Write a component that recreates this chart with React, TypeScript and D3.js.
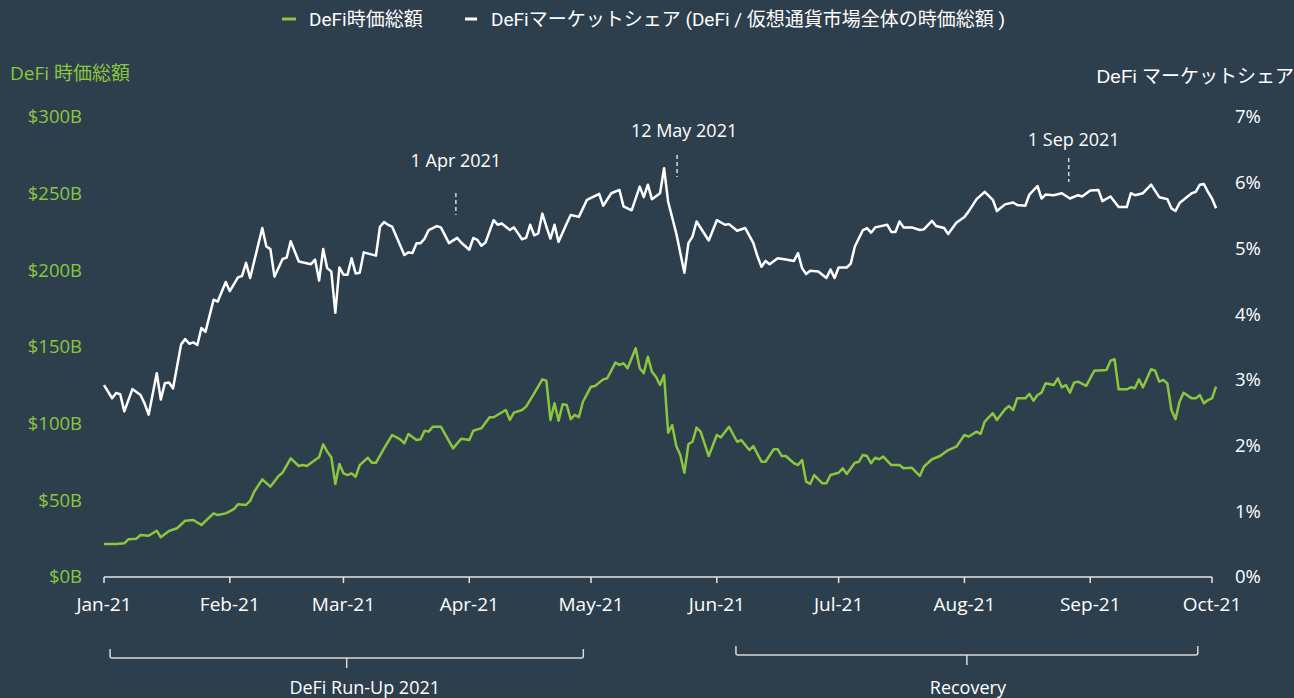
import React from "react";
import * as d3 from "d3";

// ---------- data ----------
const START = new Date(2021, 0, 1);
const END = new Date(2021, 9, 1);

// [days since 1 Jan 2021, DeFi market cap in $B]
const tvlSeries: [number, number][] = [
  [0, 21.5], [3, 21.5], [5, 22.0], [6, 24.6], [8, 25.0], [9, 27.4], [11, 26.9], [13, 30.2], [14, 25.9], [16, 30.0],
  [18, 31.8], [20, 36.7], [22, 37.2], [24, 33.9], [27, 41.5], [28, 40.4], [30, 41.5], [32, 44.2], [33, 47.4], [35, 47.0],
  [36, 49.6], [37, 55.6], [39, 63.7], [41, 58.9], [43, 65.9], [44, 68.0], [46, 77.4], [48, 72.4], [49, 73.0], [50, 72.4],
  [52, 76.3], [53, 78.1], [54, 86.5], [55, 81.7], [56, 78.1], [57, 60.7], [58, 73.7], [59, 67.6], [60, 66.5], [61, 67.6],
  [62, 65.4], [63, 73.0], [65, 77.8], [66, 74.5], [67, 74.5], [69, 83.9], [71, 92.6], [73, 89.8], [74, 87.2], [75, 93.3],
  [77, 89.3], [78, 89.8], [79, 95.4], [80, 94.8], [81, 98.0], [83, 98.0], [86, 83.9], [88, 90.2], [90, 89.3], [91, 95.4],
  [92, 96.3], [93, 97.0], [95, 104.2], [96, 104.2], [99, 108.9], [100, 102.4], [101, 107.2], [103, 108.9], [104, 111.1], [106, 119.8],
  [108, 128.9], [109, 128.0], [110, 102.4], [111, 113.3], [112, 101.9], [113, 112.6], [114, 112.2], [115, 102.9], [116, 105.7], [117, 104.2],
  [118, 114.3], [120, 124.1], [121, 124.6], [123, 128.9], [124, 129.6], [126, 139.8], [127, 138.3], [128, 139.4], [129, 136.1], [131, 149.2],
  [132, 136.1], [133, 132.9], [134, 143.7], [135, 133.9], [136, 130.6], [137, 125.2], [138, 131.7], [139, 94.1], [140, 99.1], [141, 85.4],
  [142, 79.6], [143, 68.0], [144, 86.7], [145, 88.2], [146, 97.4], [147, 94.8], [149, 78.9], [151, 92.6], [152, 91.1], [154, 98.0],
  [156, 88.2], [157, 89.3], [159, 82.8], [160, 85.4], [162, 75.2], [163, 75.2], [165, 83.3], [166, 83.3], [167, 78.9], [168, 78.9],
  [170, 74.2], [171, 73.0], [172, 76.3], [173, 62.2], [174, 60.7], [175, 66.5], [177, 61.1], [178, 61.1], [179, 66.5], [181, 68.0],
  [182, 70.9], [183, 67.2], [185, 74.5], [186, 75.2], [187, 79.6], [188, 78.9], [189, 74.2], [190, 77.8], [191, 76.8], [192, 78.5],
  [194, 73.0], [196, 73.0], [197, 70.9], [199, 71.3], [201, 65.9], [202, 71.9], [204, 76.8], [206, 78.9], [208, 82.8], [210, 85.0],
  [212, 92.6], [213, 91.5], [215, 94.8], [216, 93.3], [217, 101.3], [219, 106.8], [220, 102.4], [222, 109.4], [223, 111.5], [224, 108.9],
  [225, 116.5], [227, 116.5], [228, 119.4], [229, 115.0], [230, 118.7], [231, 120.2], [232, 126.3], [234, 125.2], [235, 129.6], [236, 123.7],
  [237, 125.2], [238, 120.2], [239, 126.7], [240, 127.4], [242, 124.6], [244, 134.5], [247, 135.0], [248, 141.1], [249, 142.0], [250, 122.4],
  [252, 122.4], [253, 123.7], [254, 123.1], [255, 128.9], [256, 123.7], [258, 135.5], [259, 134.5], [260, 127.4], [261, 128.5], [262, 126.3],
  [263, 108.9], [264, 102.9], [265, 114.3], [266, 120.2], [268, 116.5], [269, 116.5], [270, 118.7], [271, 113.3], [272, 115.4], [273, 116.5],
  [274, 124.1],
];

// [days since 1 Jan 2021, DeFi market share in %]
const shareSeries: [number, number][] = [
  [0, 2.92], [2, 2.72], [3, 2.80], [4, 2.78], [5, 2.52], [7, 2.86], [9, 2.77], [10, 2.64], [11, 2.47], [13, 3.10],
  [14, 2.70], [15, 2.95], [16, 2.96], [17, 2.87], [19, 3.54], [20, 3.62], [21, 3.55], [22, 3.57], [23, 3.53], [24, 3.79],
  [25, 3.73], [27, 4.22], [28, 4.19], [30, 4.49], [31, 4.35], [33, 4.56], [34, 4.58], [35, 4.78], [36, 4.55], [39, 5.31],
  [40, 5.03], [41, 4.99], [42, 4.57], [44, 4.84], [45, 4.86], [46, 5.11], [48, 4.80], [51, 4.76], [52, 4.83], [53, 4.51],
  [54, 4.99], [55, 4.70], [56, 4.65], [57, 4.02], [58, 4.71], [59, 4.60], [60, 4.60], [61, 4.85], [62, 4.62], [63, 4.63],
  [64, 4.94], [67, 4.89], [68, 5.33], [69, 5.40], [70, 5.36], [71, 5.33], [74, 4.90], [75, 4.94], [76, 4.93], [77, 5.08],
  [78, 5.08], [79, 5.15], [80, 5.28], [82, 5.34], [83, 5.32], [85, 5.08], [87, 5.16], [88, 5.09], [90, 4.98], [91, 5.16],
  [92, 5.13], [93, 5.04], [94, 5.09], [96, 5.43], [97, 5.36], [98, 5.38], [100, 5.28], [101, 5.32], [103, 5.14], [104, 5.16],
  [105, 5.36], [106, 5.20], [107, 5.23], [108, 5.53], [109, 5.33], [110, 5.15], [111, 5.36], [112, 5.10], [114, 5.38], [115, 5.51],
  [117, 5.48], [118, 5.61], [119, 5.74], [122, 5.83], [123, 5.65], [125, 5.84], [127, 5.89], [128, 5.64], [130, 5.58], [132, 5.94],
  [133, 5.78], [134, 5.97], [135, 5.75], [137, 5.84], [138, 6.22], [139, 5.71], [141, 5.23], [143, 4.63], [144, 5.08], [145, 5.18],
  [146, 5.41], [149, 5.12], [151, 5.43], [153, 5.36], [154, 5.37], [156, 5.27], [158, 5.31], [160, 5.08], [161, 4.88], [162, 4.72],
  [163, 4.81], [164, 4.76], [166, 4.85], [168, 4.83], [170, 4.81], [171, 4.93], [172, 4.70], [173, 4.61], [174, 4.66], [176, 4.65],
  [178, 4.55], [179, 4.68], [180, 4.55], [181, 4.71], [183, 4.71], [184, 4.77], [185, 5.03], [187, 5.28], [188, 5.31], [189, 5.24],
  [190, 5.32], [193, 5.36], [194, 5.25], [195, 5.25], [196, 5.41], [197, 5.32], [199, 5.32], [201, 5.28], [202, 5.29], [204, 5.42],
  [205, 5.34], [207, 5.31], [208, 5.22], [210, 5.39], [212, 5.48], [213, 5.56], [215, 5.75], [217, 5.86], [219, 5.74], [220, 5.57],
  [222, 5.67], [224, 5.70], [225, 5.66], [227, 5.65], [228, 5.82], [230, 5.95], [231, 5.76], [232, 5.82], [234, 5.81], [236, 5.84],
  [238, 5.76], [240, 5.81], [241, 5.79], [243, 5.88], [245, 5.89], [246, 5.72], [248, 5.79], [250, 5.63], [252, 5.63], [253, 5.84],
  [254, 5.81], [256, 5.84], [258, 5.97], [260, 5.78], [262, 5.75], [263, 5.61], [264, 5.57], [265, 5.69], [266, 5.74], [268, 5.84],
  [269, 5.86], [270, 5.97], [271, 5.98], [272, 5.86], [273, 5.76], [274, 5.61],
];

const tvlTicks = [0, 50, 100, 150, 200, 250, 300];
const shareTicks = [0, 1, 2, 3, 4, 5, 6, 7];

const legendLabels = ["DeFi時価総額", "DeFiマーケットシェア (DeFi / 仮想通貨市場全体の時価総額 )"];
const leftTitle = "DeFi 時価総額";
const rightTitle = "DeFi マーケットシェア";

const annotationLabels = ["1 Apr 2021", "12 May 2021", "1 Sep 2021"];
const annotationDays = [86.7, 141.2, 237.7];

const periodLabels = ["DeFi Run-Up 2021", "Recovery"];
const periodFrom = [1.5, 155.7];
const periodTo = [118.1, 269.5];

// ---------- layout / style ----------
const W = 1294;
const H = 698;
const BG = "#2d3e4d";
const GREEN = "#8cc63f";
const WHITE = "#ffffff";
const AXIS = "#e6e6e6";
const FONT = "'Open Sans', 'Noto Sans CJK JP', sans-serif";
const annLayout = [
  { textY: 167, dx: 0, y1: 193, y2: 215 },
  { textY: 137, dx: 7, y1: 155, y2: 177 },
  { textY: 146, dx: 5, y1: 158, y2: 182 },
];
const periodLayout = [
  { by: 658, dx: 18 },
  { by: 655, dx: 1 },
];

const dayToDate = (d: number) => new Date(START.getTime() + d * 86400000);

export default function App() {
  const x = d3.scaleTime().domain([START, END]).range([104, 1212]);
  const yL = d3.scaleLinear().domain([0, 300]).range([577, 117]);
  const yR = d3.scaleLinear().domain([0, 7]).range([577, 117]);

  const tvlLine = d3
    .line<[number, number]>()
    .x((d) => x(dayToDate(d[0])))
    .y((d) => yL(d[1]));
  const shareLine = d3
    .line<[number, number]>()
    .x((d) => x(dayToDate(d[0])))
    .y((d) => yR(d[1]));

  const monthTicks = x.ticks(d3.timeMonth.every(1) as any);
  const fmt = d3.timeFormat("%b-%y");
  const axisY = yL(0);

  return (
    <svg
      width={W}
      height={H}
      style={{ position: "absolute", left: 0, top: 0, display: "block" }}
      fontFamily={FONT}
    >
      <rect x={0} y={0} width={W} height={H} fill={BG} />

      {/* legend */}
      <g fontSize={19} fill={WHITE} fontFamily="Roboto, 'Noto Sans CJK JP', sans-serif">
        <rect x={282} y={17.5} width={14} height={3} fill={GREEN} />
        <text x={309} y={25.5}>{legendLabels[0]}</text>
        <rect x={465} y={17.5} width={12} height={3} fill={WHITE} />
        <text x={491} y={25.5}>{legendLabels[1]}</text>
      </g>

      {/* axis titles */}
      <text x={10} y={80} fontSize={19} fill={GREEN}>{leftTitle}</text>
      <text
        x={1294}
        y={82.5}
        fontSize={19}
        fill={WHITE}
        textAnchor="end"
        fontFamily="'Liberation Sans', 'Noto Sans CJK JP', sans-serif"
      >
        {rightTitle}
      </text>

      {/* left ticks */}
      {tvlTicks.map((t) => (
        <text key={"l" + t} x={82} y={yL(t)} dy="0.35em" textAnchor="end" fontSize={18.5} fill={GREEN}>
          {`$${t}B`}
        </text>
      ))}
      {/* right ticks */}
      {shareTicks.map((t) => (
        <text key={"r" + t} x={1235} y={yR(t)} dy="0.35em" textAnchor="start" fontSize={18.5} fill={WHITE}>
          {`${t}%`}
        </text>
      ))}

      {/* x axis */}
      <line x1={x(START)} x2={x(END)} y1={axisY} y2={axisY} stroke={AXIS} strokeWidth={1.5} />
      {monthTicks.map((m) => (
        <g key={m.getTime()}>
          <line x1={x(m)} x2={x(m)} y1={axisY} y2={axisY + 6} stroke={AXIS} strokeWidth={1.5} />
          <text x={x(m)} y={611} textAnchor="middle" fontSize={19} fill={WHITE}>
            {fmt(m)}
          </text>
        </g>
      ))}

      {/* lines */}
      <path d={tvlLine(tvlSeries) || ""} fill="none" stroke={GREEN} strokeWidth={2.5} strokeLinejoin="round" />
      <path d={shareLine(shareSeries) || ""} fill="none" stroke={WHITE} strokeWidth={2.5} strokeLinejoin="round" />

      {/* annotations */}
      {annotationLabels.map((lab, i) => {
        const ax = x(dayToDate(annotationDays[i]));
        const L = annLayout[i];
        return (
          <g key={lab}>
            <text x={ax + L.dx} y={L.textY} textAnchor="middle" fontSize={18} fill={WHITE}>
              {lab}
            </text>
            <line x1={ax} x2={ax} y1={L.y1} y2={L.y2} stroke="#d9d9d9" strokeWidth={1.5} strokeDasharray="4 3" />
          </g>
        );
      })}

      {/* period brackets */}
      {periodLabels.map((lab, i) => {
        const x1 = x(dayToDate(periodFrom[i]));
        const x2 = x(dayToDate(periodTo[i]));
        const cx = (x1 + x2) / 2;
        const { by, dx } = periodLayout[i];
        return (
          <g key={lab}>
            <path
              d={`M${x1},${by - 9} L${x1},${by - 2} Q${x1},${by} ${x1 + 2},${by} L${x2 - 2},${by} Q${x2},${by} ${x2},${by - 2} L${x2},${by - 9} M${cx},${by} L${cx},${by + 10}`}
              fill="none"
              stroke="#d9d9d9"
              strokeWidth={1.5}
            />
            <text x={cx + dx} y={694} textAnchor="middle" fontSize={18} fill={WHITE}>
              {lab}
            </text>
          </g>
        );
      })}
    </svg>
  );
}
